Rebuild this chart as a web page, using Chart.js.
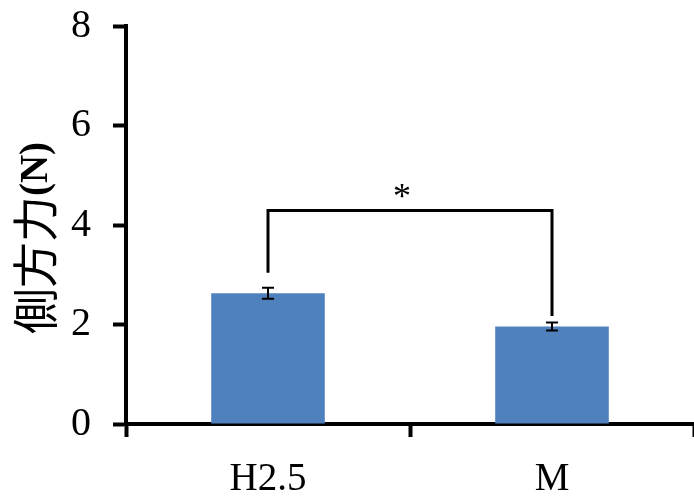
<!DOCTYPE html>
<html>
<head>
<meta charset="utf-8">
<script src="https://cdn.jsdelivr.net/npm/chart.js@4"></script>
<style>
  html, body { margin: 0; padding: 0; background: #fff; }
  #wrap { width: 694px; height: 499px; }
</style>
</head>
<body>
<div id="wrap"><canvas id="chart" width="694" height="499"></canvas></div>
<script>
// Chart data
const categories = ['H2.5', 'M'];
const means = [2.63, 1.96];
const errors = [0.11, 0.08];
const yTicks = [0, 2, 4, 6, 8];

// Significance bracket (values in N)
const bracketTop = 4.29;
const bracketEnds = [3.04, 2.17];
const starLevel = 4.7;
const starLabel = '*';

const yTitleMain = '側方力';
const yTitleUnit = '(N)';

const serif = 'Liberation Serif';

// Error bars + significance bracket
const annotationPlugin = {
  id: 'annotations',
  afterDatasetsDraw(chart) {
    const ctx = chart.ctx;
    const x = chart.scales.x;
    const y = chart.scales.y;
    ctx.save();
    ctx.strokeStyle = '#000';

    // error bars
    ctx.lineWidth = 2;
    means.forEach((m, i) => {
      const cx = x.getPixelForValue(i);
      const top = y.getPixelForValue(m + errors[i]);
      const bot = y.getPixelForValue(m - errors[i]);
      ctx.beginPath();
      ctx.moveTo(cx, top);
      ctx.lineTo(cx, bot);
      ctx.moveTo(cx - 6, top);
      ctx.lineTo(cx + 6, top);
      ctx.moveTo(cx - 6, bot);
      ctx.lineTo(cx + 6, bot);
      ctx.stroke();
    });

    // bracket
    const x0 = x.getPixelForValue(0);
    const x1 = x.getPixelForValue(1);
    const yt = y.getPixelForValue(bracketTop);
    ctx.lineWidth = 3;
    ctx.beginPath();
    ctx.moveTo(x0, y.getPixelForValue(bracketEnds[0]));
    ctx.lineTo(x0, yt);
    ctx.lineTo(x1, yt);
    ctx.lineTo(x1, y.getPixelForValue(bracketEnds[1]));
    ctx.stroke();

    ctx.fillStyle = '#000';
    ctx.font = '36px "' + serif + '"';
    ctx.textAlign = 'center';
    ctx.textBaseline = 'middle';
    ctx.fillText(starLabel, (x0 + x1) / 2 - 8, y.getPixelForValue(starLevel) + 8);
    ctx.restore();
  }
};

// Rotated y title with mixed fonts
const yTitlePlugin = {
  id: 'yTitle',
  afterDraw(chart) {
    const ctx = chart.ctx;
    const cx = 35;
    const cy = 238;
    const fontMain = '46px "Noto Sans CJK JP"';
    const fontUnit = 'bold 39px "' + serif + '"';
    ctx.save();
    ctx.font = fontMain;
    const w1 = ctx.measureText(yTitleMain).width;
    ctx.font = fontUnit;
    const w2 = ctx.measureText(yTitleUnit).width;
    ctx.translate(cx, cy);
    ctx.rotate(-Math.PI / 2);
    ctx.fillStyle = '#000';
    ctx.textBaseline = 'middle';
    ctx.textAlign = 'left';
    const start = -(w1 + w2) / 2;
    ctx.font = fontMain;
    ctx.fillText(yTitleMain, start, 0);
    ctx.font = fontUnit;
    ctx.fillText(yTitleUnit, start + w1, 2);
    ctx.restore();
  }
};

const chart = new Chart(document.getElementById('chart'), {
  type: 'bar',
  data: {
    labels: categories,
    datasets: [{
      data: means,
      backgroundColor: '#4F81BD',
      borderWidth: 0,
      barPercentage: 0.4,
      categoryPercentage: 1
    }]
  },
  options: {
    responsive: false,
    animation: false,
    devicePixelRatio: 1,
    layout: { padding: { top: 26, left: 0, right: 0, bottom: 0 } },
    plugins: {
      legend: { display: false },
      tooltip: { enabled: false }
    },
    scales: {
      x: {
        offset: true,
        grid: {
          offset: true,
          drawOnChartArea: false,
          color: '#000',
          tickLength: 13,
          tickWidth: 4
        },
        border: { color: '#000', width: 4 },
        ticks: {
          color: '#000',
          font: { family: serif, size: 39 },
          padding: 19
        },
        afterFit(scale) {
          scale.height = 75;
          scale.paddingLeft = 0;
          scale.paddingRight = 0;
        }
      },
      y: {
        min: 0,
        max: 8,
        afterBuildTicks(scale) { scale.ticks = yTicks.map(v => ({ value: v })); },
        grid: {
          drawOnChartArea: false,
          color: '#000',
          tickLength: 13,
          tickWidth: 4
        },
        border: { color: '#000', width: 4 },
        ticks: {
          color: '#000',
          font: { family: serif, size: 40 },
          padding: 22
        },
        afterFit(scale) {
          scale.width = 126;
          scale.paddingTop = 0;
          scale.paddingBottom = 0;
        }
      }
    }
  },
  plugins: [annotationPlugin, yTitlePlugin]
});

// redraw once fonts are ready
if (document.fonts) {
  document.fonts.load('40px "' + serif + '"').then(() => chart.update());
}
</script>
</body>
</html>
